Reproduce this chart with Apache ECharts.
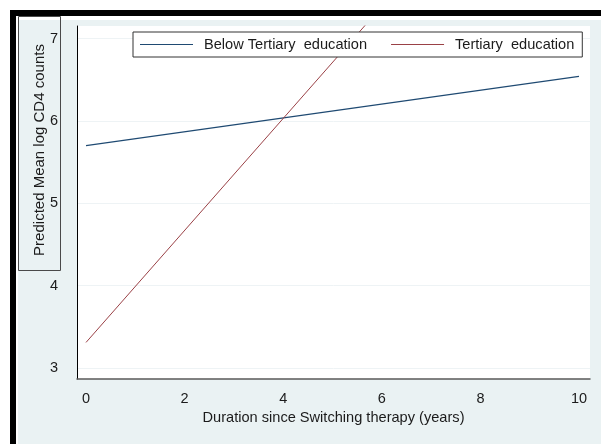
<!DOCTYPE html>
<html>
<head>
<meta charset="utf-8">
<script src="https://cdn.jsdelivr.net/npm/echarts@6/dist/echarts.min.js"></script>
<style>
  html, body { margin: 0; padding: 0; background: #ffffff; }
  #chart { width: 601px; height: 444px; }
</style>
</head>
<body>
<div id="chart"></div>
<script>
// Predicted mean log CD4 counts by years since switching therapy
const years = [0, 10];
const belowTertiary = [5.70, 6.54];
const tertiary = [3.31, 10.11];
const xTicks = [0, 2, 4, 6, 8, 10];
const yTicks = [3, 4, 5, 6, 7];
const seriesNames = ['Below Tertiary  education', 'Tertiary  education'];
const xTitle = 'Duration since Switching therapy (years)';
const yTitle = 'Predicted Mean log CD4 counts';

const FONT = '"Liberation Sans", Arial, sans-serif';
const INK = '#1b1b1b';
const PANEL = '#eaf2f3';
const NAVY = '#1f4a72';
const MAROON = '#9a4146';

const toPairs = (xs, ys) => xs.map((x, i) => [x, ys[i]]);

const chart = echarts.init(document.getElementById('chart'), null, { renderer: 'canvas' });

chart.setOption({
  backgroundColor: '#ffffff',
  animation: false,
  graphic: {
    elements: [
      // outer panel
      { type: 'rect', z: -10, silent: true,
        shape: { x: 18, y: 20, width: 583, height: 424 },
        style: { fill: PANEL } },
      // dark frame, top and left
      { type: 'rect', z: -9, silent: true,
        shape: { x: 10, y: 10, width: 591, height: 6 },
        style: { fill: '#000000' } },
      { type: 'rect', z: -9, silent: true,
        shape: { x: 10, y: 10, width: 6, height: 434 },
        style: { fill: '#000000' } },
      // boxed y-axis title
      { type: 'rect', silent: true,
        shape: { x: 18.5, y: 16.5, width: 42, height: 254 },
        style: { fill: 'none', stroke: '#4a4a4a', lineWidth: 1 } },
      { type: 'text', silent: true,
        x: 40, y: 150, rotation: Math.PI / 2,
        style: { text: yTitle, fontSize: 15, fontFamily: FONT, fill: INK,
                 align: 'center', verticalAlign: 'middle' } }
    ]
  },
  legend: {
    left: 133,
    top: 32,
    orient: 'horizontal',
    padding: [5, 8, 5, 7],
    itemGap: 24,
    icon: 'rect',
    itemWidth: 53,
    itemHeight: 1.2,
    backgroundColor: '#ffffff',
    borderColor: '#333333',
    borderWidth: 1,
    borderRadius: 0,
    textStyle: { fontSize: 14.6, fontFamily: FONT, color: INK, padding: [0, 0, 0, 6] },
    data: seriesNames
  },
  grid: {
    left: 77, right: 11, top: 26, bottom: 65,
    show: true, backgroundColor: '#ffffff', borderWidth: 0,
    containLabel: false
  },
  xAxis: {
    type: 'value',
    min: -0.183, max: 10.223,
    name: xTitle,
    nameLocation: 'middle',
    nameGap: 25,
    nameTextStyle: { fontSize: 14.6, fontFamily: FONT, color: INK },
    axisLine: { show: true, onZero: false, lineStyle: { color: '#5a5a5a', width: 1.5 } },
    axisTick: { show: false, customValues: xTicks },
    axisLabel: { customValues: xTicks, margin: 12, fontSize: 14.5, fontFamily: FONT, color: INK },
    splitLine: { show: false }
  },
  yAxis: {
    type: 'value',
    min: 2.866, max: 7.152,
    axisLine: { show: true, onZero: false, lineStyle: { color: '#000000', width: 1 } },
    axisTick: { show: false, customValues: yTicks },
    axisLabel: { customValues: yTicks, margin: 19, fontSize: 14.5, fontFamily: FONT, color: INK },
    splitLine: { show: true, lineStyle: { color: '#eef3f5', width: 1 } }
  },
  series: [
    {
      name: seriesNames[0],
      type: 'line',
      data: toPairs(years, belowTertiary),
      symbol: 'none',
      showSymbol: false,
      clip: true,
      color: NAVY,
      lineStyle: { color: NAVY, width: 1.2 }
    },
    {
      name: seriesNames[1],
      type: 'line',
      data: toPairs(years, tertiary),
      symbol: 'none',
      showSymbol: false,
      clip: true,
      color: MAROON,
      lineStyle: { color: MAROON, width: 1 }
    }
  ]
});
</script>
</body>
</html>
